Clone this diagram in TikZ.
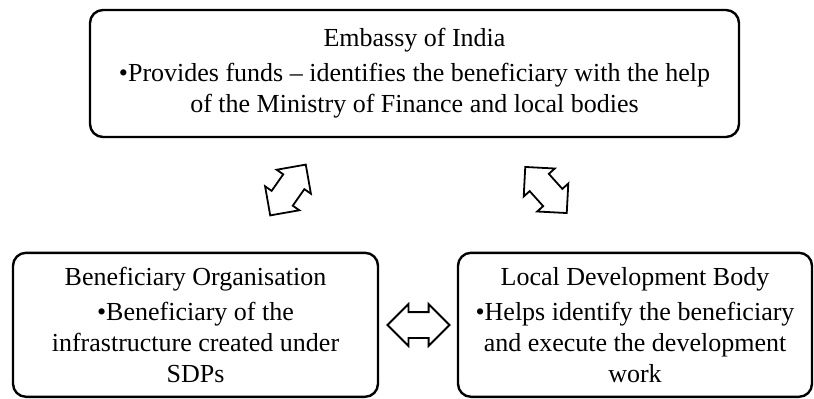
\documentclass[tikz,border=0pt]{standalone}
\usepackage{fontspec}
\setmainfont{Liberation Serif}
\usetikzlibrary{shapes.arrows}
\tikzstyle{bag} = [draw, line width=1.2pt, rounded corners=6.5pt, align=center, inner sep=0pt, font=\fontsize{13}{15.5}\selectfont]
\tikzstyle{link} = [draw, line width=0.9pt, double arrow, double arrow tip angle=90, double arrow head extend=4pt, inner sep=6pt, minimum height=31pt]

\begin{document}
\begin{tikzpicture}
	\useasboundingbox (0,0) rectangle (407pt,199pt);
	\node[bag, minimum width=324.5pt, minimum height=63.5pt] (emb) at (207.25pt,162.25pt)
		{Embassy of India\\[2pt]
		•Provides funds – identifies the beneficiary with the help\\
		of the Ministry of Finance and local bodies};
	\node[bag, minimum width=182.5pt, minimum height=72pt] (ben) at (97.75pt,36.6pt)
		{Beneficiary Organisation\\[2pt]
		•Beneficiary of the\\
		infrastructure created under\\
		SDPs};
	\node[bag, minimum width=177pt, minimum height=72pt] (ldb) at (317.5pt,36.6pt)
		{Local Development Body\\[2pt]
		•Helps identify the beneficiary\\
		and execute the development\\
		work};
	\node[link, rotate=55] (upl) at (144pt,104pt) {};
	\node[link, rotate=-48] (upr) at (273pt,104pt) {};
	\node[link] (mid) at (209.25pt,36.5pt) {};
\end{tikzpicture}
\end{document}
